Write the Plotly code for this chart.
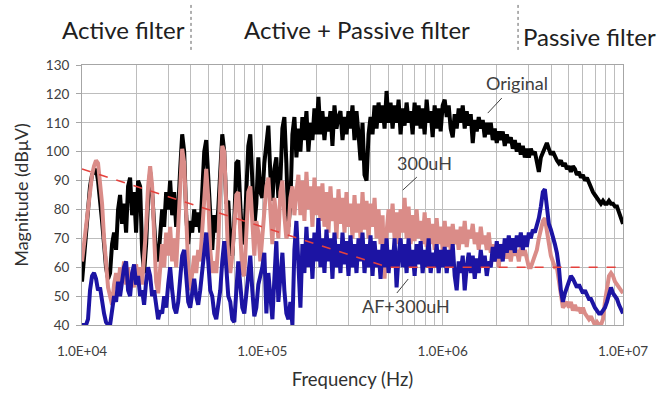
import plotly.graph_objects as go

# Sweep frequencies: mantissas within one decade (x 1e4, 1e5, 1e6), last point 10 MHz
sweep_mantissa = [
    1.000, 1.026, 1.053, 1.080, 1.108, 1.137, 1.166, 1.196, 1.227, 1.259,
    1.292, 1.325, 1.359, 1.395, 1.431, 1.468, 1.506, 1.545, 1.585, 1.626,
    1.668, 1.711, 1.756, 1.801, 1.848, 1.896, 1.945, 1.995, 2.047, 2.100,
    2.154, 2.210, 2.268, 2.326, 2.387, 2.448, 2.512, 2.577, 2.644, 2.712,
    2.783, 2.855, 2.929, 3.005, 3.082, 3.162, 3.244, 3.328, 3.415, 3.503,
    3.594, 3.687, 3.783, 3.881, 3.981, 4.084, 4.190, 4.299, 4.410, 4.524,
    4.642, 4.762, 4.885, 5.012, 5.142, 5.275, 5.412, 5.552, 5.696, 5.843,
    5.995, 6.150, 6.310, 6.473, 6.641, 6.813, 6.989, 7.171, 7.356, 7.547,
    7.743, 7.943, 8.149, 8.360, 8.577, 8.799, 9.027, 9.261, 9.501, 9.747,
]
decades_hz = [1e4, 1e5, 1e6]
end_freq_hz = 1e7

original_db = [
    # 10 kHz - 100 kHz
    55, 64, 74, 83, 88, 92, 93, 94, 90, 84,
    76, 68, 60, 56, 58, 68, 72, 66, 80, 85,
    75, 82, 72, 88, 91, 78, 86, 72, 90, 88,
    66, 58, 68, 84, 93, 86, 72, 64, 62, 70,
    80, 74, 86, 80, 90, 78, 86, 74, 80, 94,
    106, 100, 78, 68, 76, 72, 80, 74, 79, 72,
    84, 100, 104, 90, 74, 66, 78, 72, 80, 92,
    106, 100, 82, 83, 70, 64, 76, 96, 97, 82,
    68, 70, 86, 102, 106, 92, 74, 82, 98, 86,
    # 100 kHz - 1 MHz
    84, 96, 104, 109, 92, 83, 94, 98, 84, 90,
    108, 112, 96, 74, 82, 106, 112, 98, 108, 100,
    112, 104, 114, 100, 110, 104, 115, 106, 119, 106,
    114, 104, 112, 107, 114, 102, 116, 108, 112, 114,
    104, 112, 106, 114, 108, 116, 104, 114, 106, 97,
    110, 92, 90, 106, 112, 106, 116, 108, 117, 110,
    116, 108, 121, 110, 117, 108, 116, 110, 118, 106,
    115, 109, 117, 110, 114, 106, 117, 109, 116, 108,
    115, 106, 118, 110, 114, 105, 116, 108, 115, 107,
    # 1 MHz - 10 MHz
    116, 118, 112, 116, 108, 105, 113, 108, 115, 110,
    116, 108, 114, 109, 113, 103, 111, 107, 112, 108,
    111, 105, 110, 106, 110, 104, 108, 103, 107, 104,
    107, 102, 106, 103, 105, 101, 104, 100, 103, 99,
    102, 98, 101, 98, 101, 99, 100, 97, 93, 98,
    100, 101, 103, 101, 99, 100, 98, 97, 96, 97,
    95, 96, 94, 95, 93, 95, 94, 92, 93, 91,
    92, 90, 91, 89, 88, 86, 85, 84, 83, 82,
    83, 82, 82, 83, 82, 82, 81, 81, 79, 77,
    75,
]

uh300_db = [
    # 10 kHz - 100 kHz
    62, 68, 75, 82, 88, 92, 95, 97, 96, 90,
    82, 70, 60, 53, 50, 47, 54, 58, 52, 60,
    55, 62, 54, 60, 52, 58, 53, 61, 55, 60,
    54, 62, 74, 88, 95, 88, 70, 55, 51, 60,
    68, 60, 72, 64, 74, 62, 70, 60, 74, 90,
    101, 96, 78, 60, 52, 58, 64, 58, 66, 62,
    74, 88, 94, 84, 66, 58, 62, 58, 68, 88,
    102, 100, 80, 62, 58, 64, 74, 85, 86, 72,
    58, 57, 72, 86, 88, 74, 64, 76, 72, 62,
    # 100 kHz - 1 MHz
    70, 80, 88, 91, 78, 68, 84, 76, 70, 86,
    90, 78, 70, 72, 84, 88, 78, 86, 92, 78,
    90, 76, 93, 80, 88, 74, 91, 78, 88, 76,
    89, 74, 86, 72, 88, 76, 84, 70, 87, 75,
    84, 72, 86, 74, 82, 70, 85, 72, 82, 70,
    86, 73, 83, 70, 82, 74, 84, 70, 80, 68,
    78, 56, 72, 80, 72, 82, 70, 79, 68, 80,
    72, 84, 70, 81, 68, 78, 69, 80, 70, 76,
    68, 79, 67, 77, 68, 75, 66, 77, 68, 74,
    # 1 MHz - 10 MHz
    66, 76, 67, 74, 66, 75, 68, 73, 66, 74,
    68, 76, 67, 73, 70, 75, 68, 72, 66, 74,
    68, 71, 66, 72, 65, 68, 62, 66, 60, 68,
    64, 67, 63, 66, 62, 67, 64, 66, 62, 67,
    64, 66, 62, 60, 60, 62, 64, 66, 70, 74,
    76, 77, 72, 67, 64, 62, 60, 60, 56, 50,
    46, 47, 48, 46, 48, 45, 47, 45, 46, 44,
    46, 44, 43, 42, 43, 41, 40, 41, 40, 40,
    42, 48, 53, 57, 58, 57, 55, 54, 53, 52,
    51,
]

af_uh300_db = [
    # 10 kHz - 100 kHz
    40, 40, 40, 42, 52, 57, 58, 56, 52, 53,
    48, 44, 41, 40, 40, 44, 50, 48, 55, 50,
    56, 60, 62, 52, 50, 58, 61, 54, 57, 50,
    52, 47, 55, 60, 57, 50, 52, 46, 42, 45,
    44, 50, 46, 54, 60, 52, 46, 44, 48, 56,
    64, 66, 58, 48, 46, 52, 56, 50, 47, 52,
    58, 66, 72, 62, 52, 50, 44, 42, 48, 52,
    62, 69, 60, 50, 48, 42, 41, 52, 62, 54,
    46, 44, 50, 58, 64, 52, 43, 46, 54, 57,
    # 100 kHz - 1 MHz
    60, 65, 44, 58, 50, 42, 56, 69, 48, 56,
    65, 52, 44, 42, 48, 40, 66, 76, 62, 46,
    68, 58, 74, 60, 70, 56, 72, 62, 77, 60,
    70, 58, 73, 62, 70, 56, 72, 60, 68, 58,
    72, 61, 69, 57, 71, 60, 68, 58, 70, 62,
    72, 58, 68, 60, 71, 57, 69, 60, 66, 56,
    68, 60, 70, 58, 66, 60, 70, 53, 64, 70,
    60, 68, 58, 70, 60, 66, 57, 68, 61, 69,
    58, 66, 60, 70, 58, 65, 60, 68, 58, 66,
    # 1 MHz - 10 MHz
    60, 67, 58, 66, 60, 68, 57, 52, 62, 58,
    64, 52, 60, 65, 58, 64, 56, 63, 58, 66,
    60, 64, 57, 62, 60, 67, 62, 69, 63, 68,
    62, 70, 65, 71, 66, 70, 65, 71, 67, 72,
    66, 71, 67, 72, 70, 73, 72, 74, 77, 81,
    86, 87, 80, 75, 73, 71, 68, 65, 60, 52,
    48, 51, 53, 55, 57, 56, 54, 53, 54, 52,
    51, 52, 50, 49, 49, 47, 46, 45, 44, 44,
    45, 46, 48, 50, 53, 51, 50, 49, 47, 45,
    44,
]

limit_freq_hz = [1e4, 5e5, 1e7]
limit_db = [94, 60, 60]

x_tick_labels = ["1.0E+04", "1.0E+05", "1.0E+06", "1.0E+07"]
y_ticks = [40, 50, 60, 70, 80, 90, 100, 110, 120, 130]
region_labels = ["Active filter", "Active + Passive filter", "Passive filter"]
curve_labels = ["Original", "300uH", "AF+300uH"]

freq_hz = [m * d for d in decades_hz for m in sweep_mantissa] + [end_freq_hz]

fig = go.Figure()
fig.add_trace(go.Scatter(x=freq_hz, y=original_db, mode="lines",
                         line=dict(color="#000000", width=4), name="Original"))
fig.add_trace(go.Scatter(x=freq_hz, y=uh300_db, mode="lines",
                         line=dict(color="#DA8C88", width=4), name="300uH"))
fig.add_trace(go.Scatter(x=freq_hz, y=af_uh300_db, mode="lines",
                         line=dict(color="#1C14A3", width=4), name="AF+300uH"))
fig.add_trace(go.Scatter(x=limit_freq_hz, y=limit_db, mode="lines",
                         line=dict(color="#E5413C", width=1.5, dash="dash"), name="limit"))

grid_vals = [k * d for d in decades_hz for k in range(1, 10)] + [end_freq_hz]
grid_text = []
for d_i in range(3):
    grid_text += [x_tick_labels[d_i]] + [""] * 8
grid_text += [x_tick_labels[3]]

font_fam = "Lato, Open Sans, sans-serif"
fig.update_layout(
    width=660, height=399,
    margin=dict(l=82, r=37, t=65, b=74),
    paper_bgcolor="white", plot_bgcolor="white",
    showlegend=False,
    font=dict(family=font_fam, color="#404040"),
    xaxis=dict(type="log", range=[4, 7], tickvals=grid_vals, ticktext=grid_text,
               showgrid=True, gridcolor="#BDBDBD", gridwidth=1,
               showline=True, linecolor="#A6A6A6", mirror=True,
               ticks="", ticklabelstandoff=14, tickfont=dict(size=13.5, color="#404040"),
               title=dict(text="Frequency (Hz)", font=dict(size=18.5, color="#303030"),
                          standoff=14),
               zeroline=False),
    yaxis=dict(range=[40, 130], tickvals=y_ticks,
               showgrid=True, gridcolor="#BDBDBD", gridwidth=1,
               showline=True, linecolor="#A6A6A6", mirror=True,
               ticks="outside", ticklen=5, tickcolor="#A6A6A6",
               ticklabelstandoff=4, tickfont=dict(size=13.5, color="#404040"),
               title=dict(text="Magnitude (dBμV)", font=dict(size=18, color="#303030"),
                          standoff=12),
               zeroline=False),
)

def label(x, y, text, size, color):
    fig.add_annotation(x=x, y=y, xref="paper", yref="paper", text=text, showarrow=False,
                       xanchor="center", yanchor="middle", font=dict(size=size, color=color))

# Region header labels and separators
label(0.0776, 1.135, region_labels[0], 24, "#202020")
label(0.508, 1.135, region_labels[1], 24, "#202020")
label(0.939, 1.108, region_labels[2], 24, "#202020")
for xp in (0.2015, 0.806):
    fig.add_shape(type="line", xref="paper", yref="paper", x0=xp, x1=xp, y0=1.058, y1=1.231,
                  line=dict(color="#606060", width=1, dash="dot"), layer="above")

# Curve labels with leader lines
label(0.804, 0.931, curve_labels[0], 18, "#404040")
fig.add_shape(type="line", xref="paper", yref="paper", x0=0.776, y0=0.873, x1=0.750, y1=0.815,
              line=dict(color="#404040", width=1))
label(0.634, 0.623, curve_labels[1], 18, "#404040")
fig.add_shape(type="line", xref="paper", yref="paper", x0=0.619, y0=0.569, x1=0.593, y1=0.519,
              line=dict(color="#404040", width=1))
label(0.598, 0.073, curve_labels[2], 18, "#404040")
fig.add_shape(type="line", xref="paper", yref="paper", x0=0.603, y0=0.177, x1=0.582, y1=0.123,
              line=dict(color="#404040", width=1))

fig.write_html("out.html")
